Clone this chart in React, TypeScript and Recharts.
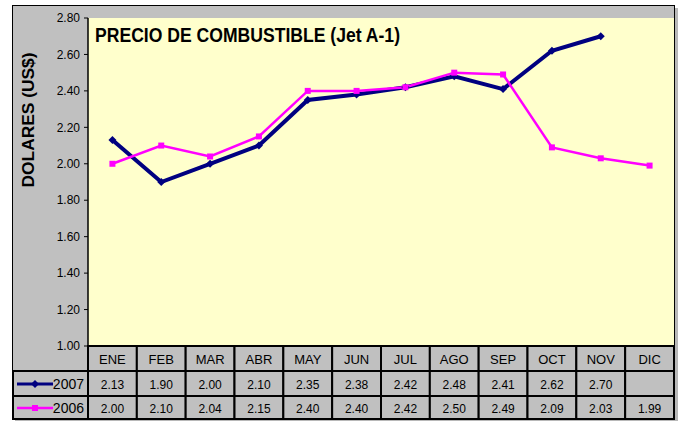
import { CartesianGrid, Line, LineChart, XAxis, YAxis } from "recharts";

const months = ["ENE", "FEB", "MAR", "ABR", "MAY", "JUN", "JUL", "AGO", "SEP", "OCT", "NOV", "DIC"];
const precio2007: (number | null)[] = [2.13, 1.9, 2.0, 2.1, 2.35, 2.38, 2.42, 2.48, 2.41, 2.62, 2.7, null];
const precio2006: (number | null)[] = [2.0, 2.1, 2.04, 2.15, 2.4, 2.4, 2.42, 2.5, 2.49, 2.09, 2.03, 1.99];
const yTicks = [1.0, 1.2, 1.4, 1.6, 1.8, 2.0, 2.2, 2.4, 2.6, 2.8];

const FONT = "'Liberation Sans', Arial, sans-serif";
const NAVY = "#000080";
const MAGENTA = "#FF00FF";
const GRAY = "#C0C0C0";

const PLOT_LEFT = 88;
const PLOT_RIGHT = 674;
const CELL_W = (PLOT_RIGHT - PLOT_LEFT) / months.length;
const ROWS = [346, 371, 396, 419];

const data = months.map((mes, i) => ({
  mes,
  y2007: precio2007[i],
  y2006: precio2006[i],
}));

const fmt = (v: number | null) => (v == null ? "" : v.toFixed(2));

function TablaTick(props: any) {
  const { x, payload, index } = props;
  const i = index ?? months.indexOf(payload.value);
  const left = x - CELL_W / 2;
  const cells = [payload.value, fmt(precio2007[i]), fmt(precio2006[i])];
  return (
    <g>
      {cells.map((txt, r) => (
        <g key={r}>
          <rect
            x={left}
            y={ROWS[r]}
            width={CELL_W}
            height={ROWS[r + 1] - ROWS[r]}
            fill={GRAY}
            stroke="#000"
            strokeWidth={2}
          />
          <text
            x={x}
            y={(ROWS[r] + ROWS[r + 1]) / 2 + 5}
            textAnchor="middle"
            fontSize={r === 0 ? 13 : 12}
            fontFamily={FONT}
            fill="#000"
          >
            {txt}
          </text>
        </g>
      ))}
    </g>
  );
}

function Diamond(props: any) {
  const { cx, cy } = props;
  if (cx == null || cy == null || props.value == null) return <g key={props.index} />;
  return (
    <polygon
      key={props.index}
      points={`${cx},${cy - 4} ${cx + 4},${cy} ${cx},${cy + 4} ${cx - 4},${cy}`}
      fill={NAVY}
    />
  );
}

function Square(props: any) {
  const { cx, cy } = props;
  if (cx == null || cy == null || props.value == null) return <g key={props.index} />;
  return <rect key={props.index} x={cx - 3} y={cy - 3} width={6} height={6} fill={MAGENTA} />;
}

export default function App() {
  return (
    <div style={{ position: "absolute", left: 0, top: 0, width: 685, height: 421, background: "#fff" }}>
      <div
        style={{
          position: "absolute",
          left: 12,
          top: 5,
          width: 663,
          height: 415,
          background: GRAY,
          border: "1px solid #000",
          boxSizing: "border-box",
          boxShadow: "3px 3px 0 #b8b8b8",
        }}
      />
      <div style={{ position: "absolute", left: 0, top: 0 }}>
        <LineChart width={685} height={421} data={data} margin={{ top: 18, right: 685 - PLOT_RIGHT, bottom: 2, left: 0 }}>
          <CartesianGrid fill="#FFFFCC" horizontal={false} vertical={false} />
          <XAxis
            dataKey="mes"
            height={73}
            axisLine={false}
            tickLine={false}
            interval={0}
            padding={{ left: CELL_W / 2, right: CELL_W / 2 }}
            tick={<TablaTick />}
          />
          <YAxis
            width={PLOT_LEFT}
            domain={[1, 2.8]}
            ticks={yTicks}
            allowDataOverflow
            tickFormatter={(v: number) => v.toFixed(2)}
            tick={{ fontSize: 12, fill: "#000", fontFamily: FONT }}
            tickSize={4}
            tickMargin={4}
            axisLine={{ stroke: "#000", strokeWidth: 1.5 }}
            tickLine={{ stroke: "#000" }}
          />
          <Line
            type="linear"
            dataKey="y2007"
            stroke={NAVY}
            strokeWidth={4}
            dot={<Diamond />}
            isAnimationActive={false}
          />
          <Line
            type="linear"
            dataKey="y2006"
            stroke={MAGENTA}
            strokeWidth={2.5}
            dot={<Square />}
            isAnimationActive={false}
          />
        </LineChart>
      </div>
      <svg width={685} height={421} style={{ position: "absolute", left: 0, top: 0, pointerEvents: "none" }}>
        <text
          x={95}
          y={42}
          fontSize={20}
          fontWeight="bold"
          fontFamily={FONT}
          textLength={305}
          lengthAdjust="spacingAndGlyphs"
        >
          PRECIO DE COMBUSTIBLE (Jet A-1)
        </text>
        <text
          x={28}
          y={120}
          fontSize={16}
          fontWeight="bold"
          fontFamily={FONT}
          textAnchor="middle"
          dominantBaseline="central"
          textLength={135}
          lengthAdjust="spacingAndGlyphs"
          transform="rotate(-90 28 120)"
        >
          DOLARES (US$)
        </text>
        {/* leyenda a la izquierda de la tabla */}
        <rect x={13} y={ROWS[1]} width={PLOT_LEFT - 13} height={ROWS[2] - ROWS[1]} fill={GRAY} stroke="#000" strokeWidth={2} />
        <rect x={13} y={ROWS[2]} width={PLOT_LEFT - 13} height={ROWS[3] - ROWS[2]} fill={GRAY} stroke="#000" strokeWidth={2} />
        <line x1={17} x2={53} y1={384} y2={384} stroke={NAVY} strokeWidth={3} />
        <polygon points="35,380 39,384 35,388 31,384" fill={NAVY} />
        <text x={84} y={389} textAnchor="end" fontSize={14} fontFamily={FONT}>2007</text>
        <line x1={17} x2={53} y1={408} y2={408} stroke={MAGENTA} strokeWidth={2.5} />
        <rect x={32} y={405} width={6} height={6} fill={MAGENTA} />
        <text x={84} y={413} textAnchor="end" fontSize={14} fontFamily={FONT}>2006</text>
      </svg>
    </div>
  );
}
